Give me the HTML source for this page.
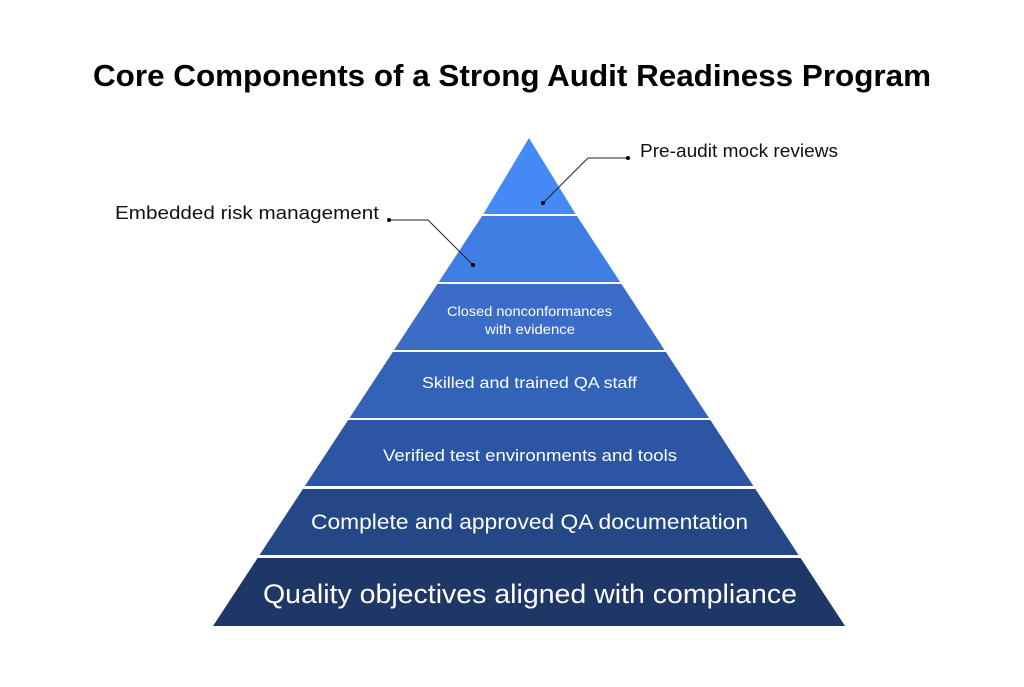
<!DOCTYPE html>
<html><head><style>
body{margin:0;background:#fff;width:1024px;height:682px;overflow:hidden;font-family:"Liberation Sans",sans-serif}
</style></head><body>
<svg width="1024" height="682" viewBox="0 0 1024 682" xmlns="http://www.w3.org/2000/svg" font-family="Liberation Sans, sans-serif">
<text x="93" y="86" textLength="838" lengthAdjust="spacingAndGlyphs" font-size="31" font-weight="bold" fill="#000">Core Components of a Strong Audit Readiness Program</text>
<defs><clipPath id="tri"><polygon points="529,138 484,213 213,626 845,626 575,213"/></clipPath></defs>
<g clip-path="url(#tri)">
<rect x="0" y="130" width="1024" height="84" fill="#4489f5"/>
<rect x="0" y="216" width="1024" height="66" fill="#3f7ee3"/>
<rect x="0" y="284" width="1024" height="66" fill="#3a6cc8"/>
<rect x="0" y="352" width="1024" height="66" fill="#3362b9"/>
<rect x="0" y="420" width="1024" height="66" fill="#2c55a3"/>
<rect x="0" y="489" width="1024" height="66" fill="#244886"/>
<rect x="0" y="558" width="1024" height="68" fill="#1e3766"/>
</g>
<g fill="#fff" lengthAdjust="spacingAndGlyphs">
<text x="447" y="316" font-size="13.5" textLength="165" lengthAdjust="spacingAndGlyphs">Closed nonconformances</text>
<text x="485" y="334" font-size="13.5" textLength="90" lengthAdjust="spacingAndGlyphs">with evidence</text>
<text x="422" y="388" font-size="16" textLength="215" lengthAdjust="spacingAndGlyphs">Skilled and trained QA staff</text>
<text x="383" y="461" font-size="17" textLength="294" lengthAdjust="spacingAndGlyphs">Verified test environments and tools</text>
<text x="311" y="529" font-size="21" textLength="437" lengthAdjust="spacingAndGlyphs">Complete and approved QA documentation</text>
<text x="263" y="603" font-size="27" textLength="534" lengthAdjust="spacingAndGlyphs">Quality objectives aligned with compliance</text>
</g>
<g stroke="#222" stroke-width="1" fill="none">
<polyline points="628,158 588,158 543,203"/>
<polyline points="389,220 428,220 473,265"/>
</g>
<g fill="#000">
<circle cx="628" cy="158" r="2"/><circle cx="543" cy="203" r="2"/>
<circle cx="389" cy="220" r="2"/><circle cx="473" cy="265" r="2"/>
</g>
<text x="640" y="157" font-size="18" fill="#111" textLength="198" lengthAdjust="spacingAndGlyphs">Pre-audit mock reviews</text>
<text x="115" y="219" font-size="18" fill="#111" textLength="264" lengthAdjust="spacingAndGlyphs">Embedded risk management</text>
</svg>
</body></html>
